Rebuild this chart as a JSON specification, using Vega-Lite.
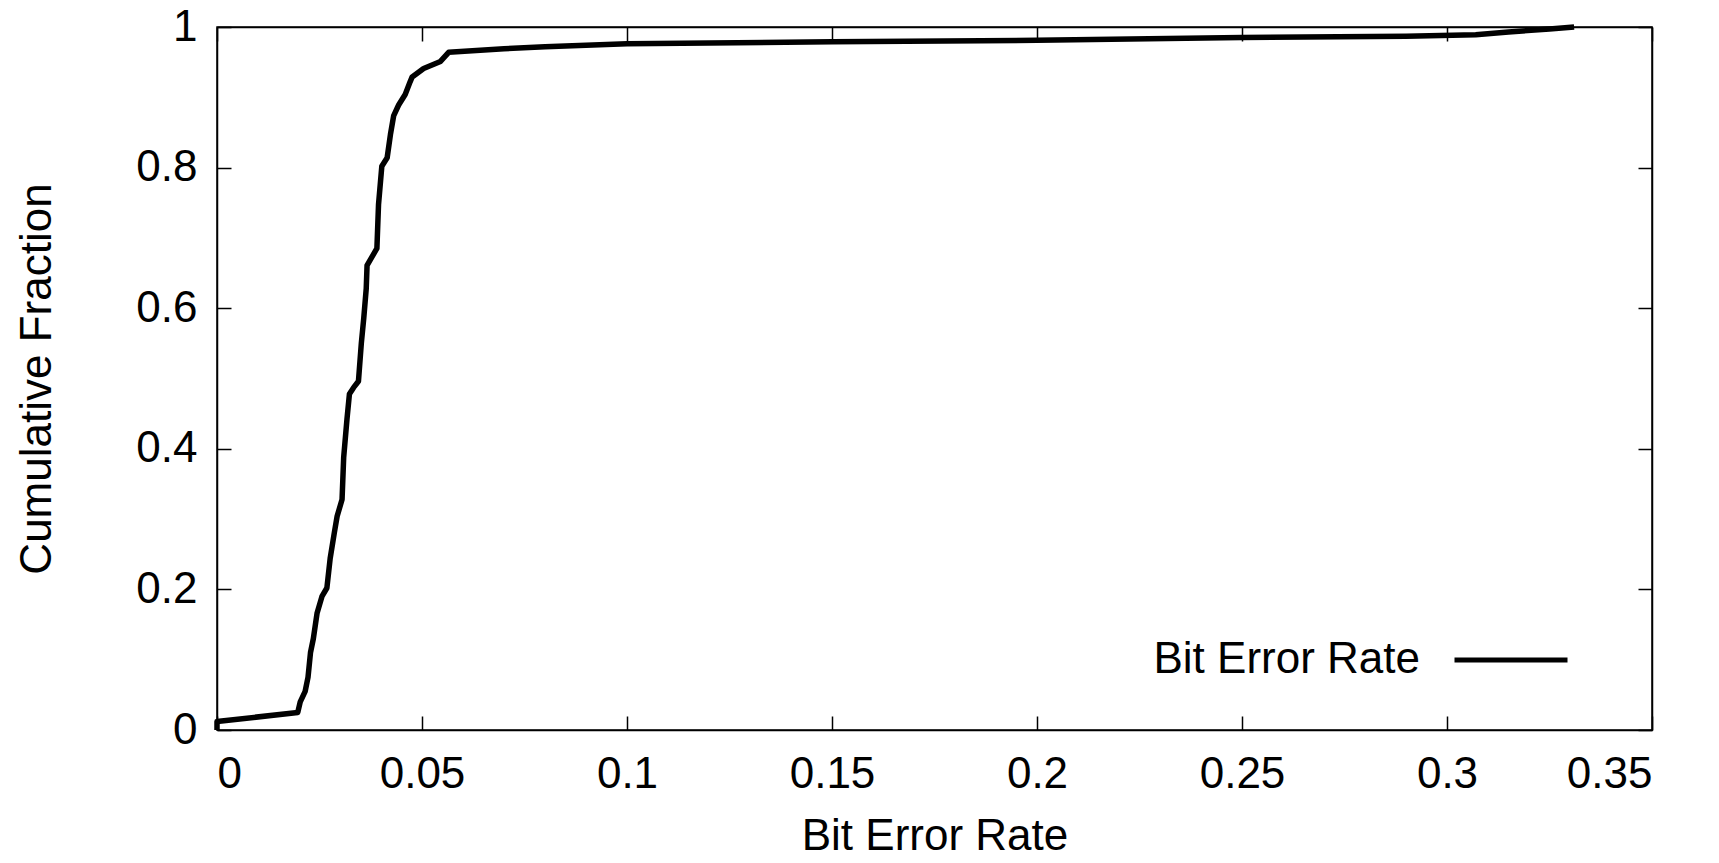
{
  "$schema": "https://vega.github.io/schema/vega-lite/v6.json",
  "width": 1435,
  "height": 703,
  "autosize": "none",
  "padding": {"left": 217, "top": 27, "right": 67, "bottom": 133},
  "background": "white",
  "config": {
    "view": {"stroke": "black", "strokeWidth": 1.5},
    "font": "Liberation Sans",
    "axis": {
      "grid": false,
      "domainColor": "black",
      "domainWidth": 1.5,
      "tickColor": "black",
      "tickWidth": 1.5,
      "tickSize": -14,
      "labelColor": "black",
      "titleColor": "black",
      "labelFontSize": 44,
      "titleFontSize": 44,
      "titleFontWeight": "normal",
      "labelFont": "Liberation Sans",
      "titleFont": "Liberation Sans"
    },
    "legend": {"labelFont": "Liberation Sans"}
  },
  "data": {
    "values": [
      {"ber": 0.0, "frac": 0.0, "series": "Bit Error Rate"},
      {"ber": 0.0, "frac": 0.012, "series": "Bit Error Rate"},
      {"ber": 0.0197, "frac": 0.025, "series": "Bit Error Rate"},
      {"ber": 0.0203, "frac": 0.04, "series": "Bit Error Rate"},
      {"ber": 0.0215, "frac": 0.055, "series": "Bit Error Rate"},
      {"ber": 0.0222, "frac": 0.075, "series": "Bit Error Rate"},
      {"ber": 0.0228, "frac": 0.11, "series": "Bit Error Rate"},
      {"ber": 0.0235, "frac": 0.13, "series": "Bit Error Rate"},
      {"ber": 0.0244, "frac": 0.166, "series": "Bit Error Rate"},
      {"ber": 0.0256, "frac": 0.19, "series": "Bit Error Rate"},
      {"ber": 0.0268, "frac": 0.202, "series": "Bit Error Rate"},
      {"ber": 0.0276, "frac": 0.244, "series": "Bit Error Rate"},
      {"ber": 0.0286, "frac": 0.28, "series": "Bit Error Rate"},
      {"ber": 0.0293, "frac": 0.304, "series": "Bit Error Rate"},
      {"ber": 0.0305, "frac": 0.328, "series": "Bit Error Rate"},
      {"ber": 0.0309, "frac": 0.388, "series": "Bit Error Rate"},
      {"ber": 0.0317, "frac": 0.442, "series": "Bit Error Rate"},
      {"ber": 0.0323, "frac": 0.478, "series": "Bit Error Rate"},
      {"ber": 0.0333, "frac": 0.487, "series": "Bit Error Rate"},
      {"ber": 0.0345, "frac": 0.496, "series": "Bit Error Rate"},
      {"ber": 0.0352, "frac": 0.55, "series": "Bit Error Rate"},
      {"ber": 0.0358, "frac": 0.586, "series": "Bit Error Rate"},
      {"ber": 0.0364, "frac": 0.628, "series": "Bit Error Rate"},
      {"ber": 0.0366, "frac": 0.661, "series": "Bit Error Rate"},
      {"ber": 0.0378, "frac": 0.673, "series": "Bit Error Rate"},
      {"ber": 0.039, "frac": 0.685, "series": "Bit Error Rate"},
      {"ber": 0.0394, "frac": 0.748, "series": "Bit Error Rate"},
      {"ber": 0.0402, "frac": 0.802, "series": "Bit Error Rate"},
      {"ber": 0.0415, "frac": 0.814, "series": "Bit Error Rate"},
      {"ber": 0.0423, "frac": 0.847, "series": "Bit Error Rate"},
      {"ber": 0.0431, "frac": 0.874, "series": "Bit Error Rate"},
      {"ber": 0.0443, "frac": 0.889, "series": "Bit Error Rate"},
      {"ber": 0.0459, "frac": 0.904, "series": "Bit Error Rate"},
      {"ber": 0.0471, "frac": 0.922, "series": "Bit Error Rate"},
      {"ber": 0.0476, "frac": 0.929, "series": "Bit Error Rate"},
      {"ber": 0.0504, "frac": 0.941, "series": "Bit Error Rate"},
      {"ber": 0.0545, "frac": 0.951, "series": "Bit Error Rate"},
      {"ber": 0.0565, "frac": 0.964, "series": "Bit Error Rate"},
      {"ber": 0.07, "frac": 0.969, "series": "Bit Error Rate"},
      {"ber": 0.08, "frac": 0.972, "series": "Bit Error Rate"},
      {"ber": 0.1, "frac": 0.976, "series": "Bit Error Rate"},
      {"ber": 0.15, "frac": 0.979, "series": "Bit Error Rate"},
      {"ber": 0.2, "frac": 0.981, "series": "Bit Error Rate"},
      {"ber": 0.25, "frac": 0.985, "series": "Bit Error Rate"},
      {"ber": 0.29, "frac": 0.987, "series": "Bit Error Rate"},
      {"ber": 0.307, "frac": 0.989, "series": "Bit Error Rate"},
      {"ber": 0.315, "frac": 0.993, "series": "Bit Error Rate"},
      {"ber": 0.325, "frac": 0.997, "series": "Bit Error Rate"},
      {"ber": 0.331, "frac": 1.0, "series": "Bit Error Rate"}
    ]
  },
  "layer": [
    {
      "mark": {"type": "line", "strokeWidth": 5.5, "strokeJoin": "round", "strokeCap": "butt"},
      "encoding": {
        "x": {
          "field": "ber", "type": "quantitative",
          "scale": {"domain": [0, 0.35], "nice": false, "zero": false},
          "axis": {"values": [0, 0.05, 0.1, 0.15, 0.2, 0.25, 0.3, 0.35], "format": "~g", "title": "Bit Error Rate", "labelPadding": 36, "titlePadding": 18}
        },
        "y": {
          "field": "frac", "type": "quantitative",
          "scale": {"domain": [0, 1], "nice": false, "zero": false},
          "axis": {"values": [0, 0.2, 0.4, 0.6, 0.8, 1], "format": "~g", "title": "Cumulative Fraction", "labelPadding": 34, "titlePadding": 76}
        },
        "color": {
          "field": "series", "type": "nominal",
          "scale": {"range": ["black"]},
          "legend": {
            "orient": "none", "legendX": 1235, "legendY": 574, "title": null,
            "padding": 0,
            "symbolType": "stroke", "symbolSize": 12769, "symbolStrokeWidth": 5, "symbolStrokeColor": "black",
            "labelFontSize": 44, "labelColor": "black", "labelAlign": "right", "labelOffset": -150, "labelLimit": 600
          }
        }
      }
    },
    {
      "mark": {"type": "line", "opacity": 0},
      "encoding": {
        "x": {"field": "ber", "type": "quantitative", "axis": {"orient": "top", "values": [0, 0.05, 0.1, 0.15, 0.2, 0.25, 0.3, 0.35], "labels": false, "title": null}},
        "y": {"field": "frac", "type": "quantitative", "axis": {"orient": "right", "values": [0, 0.2, 0.4, 0.6, 0.8, 1], "labels": false, "title": null}}
      }
    }
  ],
  "resolve": {"axis": {"x": "independent", "y": "independent"}}
}
